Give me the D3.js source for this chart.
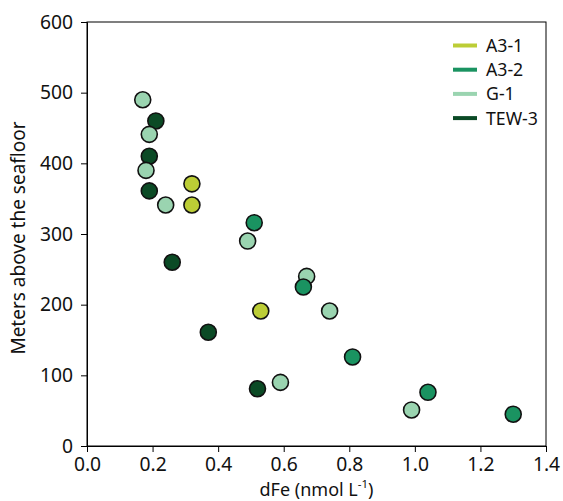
<!DOCTYPE html>
<html><head><meta charset="utf-8">
<script src="https://cdn.jsdelivr.net/npm/d3@7"></script>
<style>body{margin:0;background:#fff;} text{font-family:"Noto Sans","Open Sans",sans-serif;}</style>
</head><body>
<svg id="chart" width="563" height="501"></svg>
<script>
const stations = ["A3-1","A3-2","G-1","TEW-3"];
const stationColors = ["#bccd36","#1a9361","#9ad4b0","#0b4a25"];
const pointStation = ["G-1","TEW-3","G-1","TEW-3","G-1","TEW-3","G-1","A3-1","A3-1","TEW-3","A3-2","G-1","G-1","A3-2","A3-1","G-1","TEW-3","G-1","TEW-3","A3-2","G-1","A3-2","A3-2"];
const dFe = [0.17,0.21,0.19,0.19,0.18,0.19,0.24,0.32,0.32,0.26,0.51,0.49,0.67,0.66,0.53,0.74,0.37,0.59,0.52,0.81,0.99,1.04,1.30];
const height = [490,460,441,410,390,361,341,371,341,260,316,290,240,225,191,191,161,90,81,126,51,76,45];
const xTicks = [0,0.2,0.4,0.6,0.8,1.0,1.2,1.4];
const yTicks = [0,100,200,300,400,500,600];

const svg = d3.select("#chart");
const m = {l:87, r:17, t:22, b:55};
const W = 563, H = 501;
const x = d3.scaleLinear().domain([0,1.4]).range([m.l, W-m.r]);
const y = d3.scaleLinear().domain([0,600]).range([H-m.b, m.t]);
const color = d3.scaleOrdinal().domain(stations).range(stationColors);

// frame
svg.append("rect").attr("x",m.l).attr("y",m.t).attr("width",W-m.r-m.l).attr("height",H-m.b-m.t)
  .attr("fill","none").attr("stroke","#000").attr("stroke-width",1);

const xa = svg.append("g").attr("transform",`translate(0,${H-m.b})`)
  .call(d3.axisBottom(x).tickValues(xTicks).tickFormat(d3.format(".1f")).tickSize(6).tickPadding(5));
const ya = svg.append("g").attr("transform",`translate(${m.l},0)`)
  .call(d3.axisLeft(y).tickValues(yTicks).tickSize(6).tickPadding(8));
[xa,ya].forEach(a=>{
  a.selectAll("text").attr("font-size",19.3).attr("fill","#111").style("font-family","'Noto Sans',sans-serif");
  a.select(".domain").attr("stroke","#000");
  a.selectAll(".tick line").attr("stroke","#000");
});

svg.append("text").attr("x",(m.l+W-m.r)/2).attr("y",495.8).attr("text-anchor","middle").attr("font-size",18).attr("fill","#111")
  .html('dFe (nmol L<tspan dy="-8" font-size="11.5">-1</tspan><tspan dy="8">)</tspan>');
svg.append("text").attr("transform",`translate(25,${(m.t+H-m.b)/2+4}) rotate(-90)`).attr("text-anchor","middle")
  .attr("font-size",19).attr("fill","#111").text("Meters above the seafloor");

const pts = dFe.map((d,i)=>({x:d,y:height[i],s:pointStation[i]}));
svg.append("g").selectAll("circle").data(pts).join("circle")
  .attr("cx",d=>x(d.x)).attr("cy",d=>y(d.y)).attr("r",8)
  .attr("fill",d=>color(d.s)).attr("stroke","#111").attr("stroke-width",1.6);

const lg = svg.append("g");
stations.forEach((s,i)=>{
  const yy = 45.5 + i*24.2;
  lg.append("line").attr("x1",453).attr("x2",477).attr("y1",yy).attr("y2",yy)
    .attr("stroke",color(s)).attr("stroke-width",4);
  lg.append("text").attr("x",486).attr("y",yy+6.5).attr("font-size",17.7).attr("fill","#111").text(s);
});
</script>
</body></html>
